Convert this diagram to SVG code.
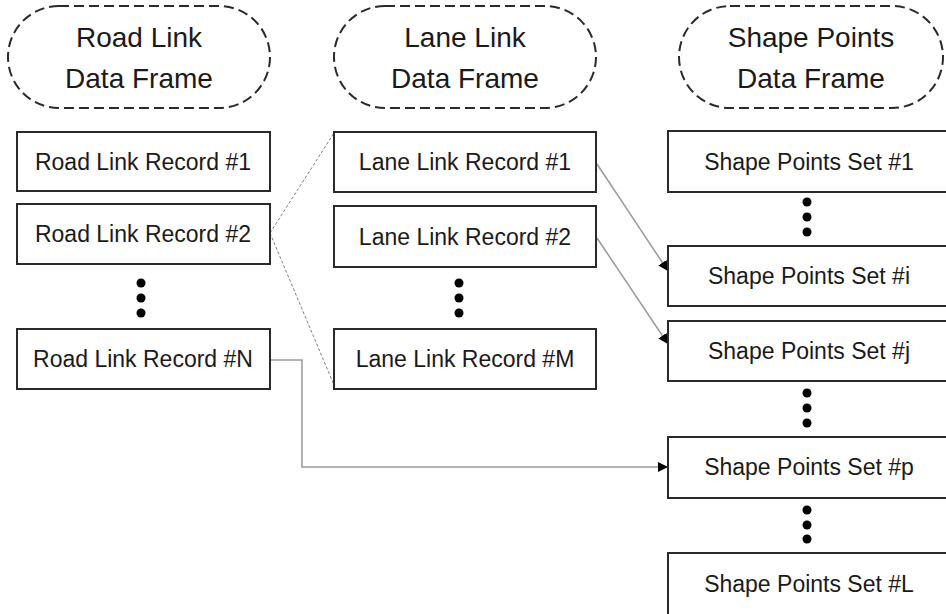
<svg xmlns="http://www.w3.org/2000/svg" width="946" height="614" viewBox="0 0 946 614">
<defs>
<style>
.frame{fill:#fff;stroke:#2a2a2a;stroke-width:2;stroke-dasharray:10 5}
.box{fill:#fff;stroke:#2a2a2a;stroke-width:2}
.ht{font-family:"Liberation Sans",Arial,sans-serif;font-size:28px;fill:#1a1a1a;text-anchor:middle}
.bt{font-family:"Liberation Sans",Arial,sans-serif;font-size:23px;fill:#1a1a1a;text-anchor:middle}
.dot{fill:#000}
.dash{fill:none;stroke:#808080;stroke-width:1;stroke-dasharray:3 2}
.link{fill:none;stroke:#9a9a9a;stroke-width:1.5}
</style>
<marker id="arr" markerUnits="userSpaceOnUse" markerWidth="10" markerHeight="10" refX="10" refY="5" orient="auto">
<path d="M0,0 L10,5 L0,10 z" fill="#000"/>
</marker>
</defs>
<rect width="946" height="614" fill="#fff"/>

<g id="connectors">
<path class="dash" d="M270,233 L334,133"/>
<path class="dash" d="M270,233 L334,385"/>
<path class="link" d="M597,164 L668,271" marker-end="url(#arr)"/>
<path class="link" d="M597,238 L668,344" marker-end="url(#arr)"/>
<path class="link" d="M271,360 L302,360 L302,467 L668,467" marker-end="url(#arr)"/>
</g>

<g id="road-frame">
<rect class="frame" x="8" y="6" width="262" height="102" rx="51"/>
<text class="ht" x="139" y="47">Road Link</text>
<text class="ht" x="139" y="88">Data Frame</text>
</g>
<g id="lane-frame">
<rect class="frame" x="334" y="6" width="262" height="102" rx="51"/>
<text class="ht" x="465" y="47">Lane Link</text>
<text class="ht" x="465" y="88">Data Frame</text>
</g>
<g id="shape-frame">
<rect class="frame" x="679" y="6" width="264" height="102" rx="51"/>
<text class="ht" x="811" y="47">Shape Points</text>
<text class="ht" x="811" y="88">Data Frame</text>
</g>

<g id="road1"><rect class="box" x="17" y="132" width="253" height="59"/><text class="bt" x="143" y="170">Road Link Record #1</text></g>
<g id="road2"><rect class="box" x="17" y="204" width="253" height="60"/><text class="bt" x="143" y="242">Road Link Record #2</text></g>
<g id="road-dots"><circle class="dot" cx="141" cy="283" r="4.5"/><circle class="dot" cx="141" cy="298" r="4.5"/><circle class="dot" cx="141" cy="313" r="4.5"/></g>
<g id="roadN"><rect class="box" x="17" y="329" width="253" height="60"/><text class="bt" x="143" y="367">Road Link Record #N</text></g>

<g id="lane1"><rect class="box" x="334" y="132" width="262" height="60"/><text class="bt" x="465" y="170">Lane Link Record #1</text></g>
<g id="lane2"><rect class="box" x="334" y="206" width="262" height="61"/><text class="bt" x="465" y="245">Lane Link Record #2</text></g>
<g id="lane-dots"><circle class="dot" cx="459" cy="283" r="4.5"/><circle class="dot" cx="459" cy="298" r="4.5"/><circle class="dot" cx="459" cy="313" r="4.5"/></g>
<g id="laneM"><rect class="box" x="334" y="329" width="262" height="60"/><text class="bt" x="465" y="367">Lane Link Record #M</text></g>

<g id="shape1"><rect class="box" x="668" y="131" width="282" height="61"/><text class="bt" x="809" y="170">Shape Points Set #1</text></g>
<g id="shape-dots1"><circle class="dot" cx="807" cy="202" r="4.5"/><circle class="dot" cx="807" cy="217" r="4.5"/><circle class="dot" cx="807" cy="232" r="4.5"/></g>
<g id="shapeI"><rect class="box" x="668" y="246" width="282" height="60"/><text class="bt" x="809" y="284">Shape Points Set #i</text></g>
<g id="shapeJ"><rect class="box" x="668" y="321" width="282" height="60"/><text class="bt" x="809" y="359">Shape Points Set #j</text></g>
<g id="shape-dots2"><circle class="dot" cx="807" cy="393" r="4.5"/><circle class="dot" cx="807" cy="408" r="4.5"/><circle class="dot" cx="807" cy="423" r="4.5"/></g>
<g id="shapeP"><rect class="box" x="668" y="437" width="282" height="61"/><text class="bt" x="809" y="475">Shape Points Set #p</text></g>
<g id="shape-dots3"><circle class="dot" cx="807" cy="510" r="4.5"/><circle class="dot" cx="807" cy="525" r="4.5"/><circle class="dot" cx="807" cy="539" r="4.5"/></g>
<g id="shapeL"><rect class="box" x="668" y="553" width="282" height="62"/><text class="bt" x="809" y="592">Shape Points Set #L</text></g>
</svg>
